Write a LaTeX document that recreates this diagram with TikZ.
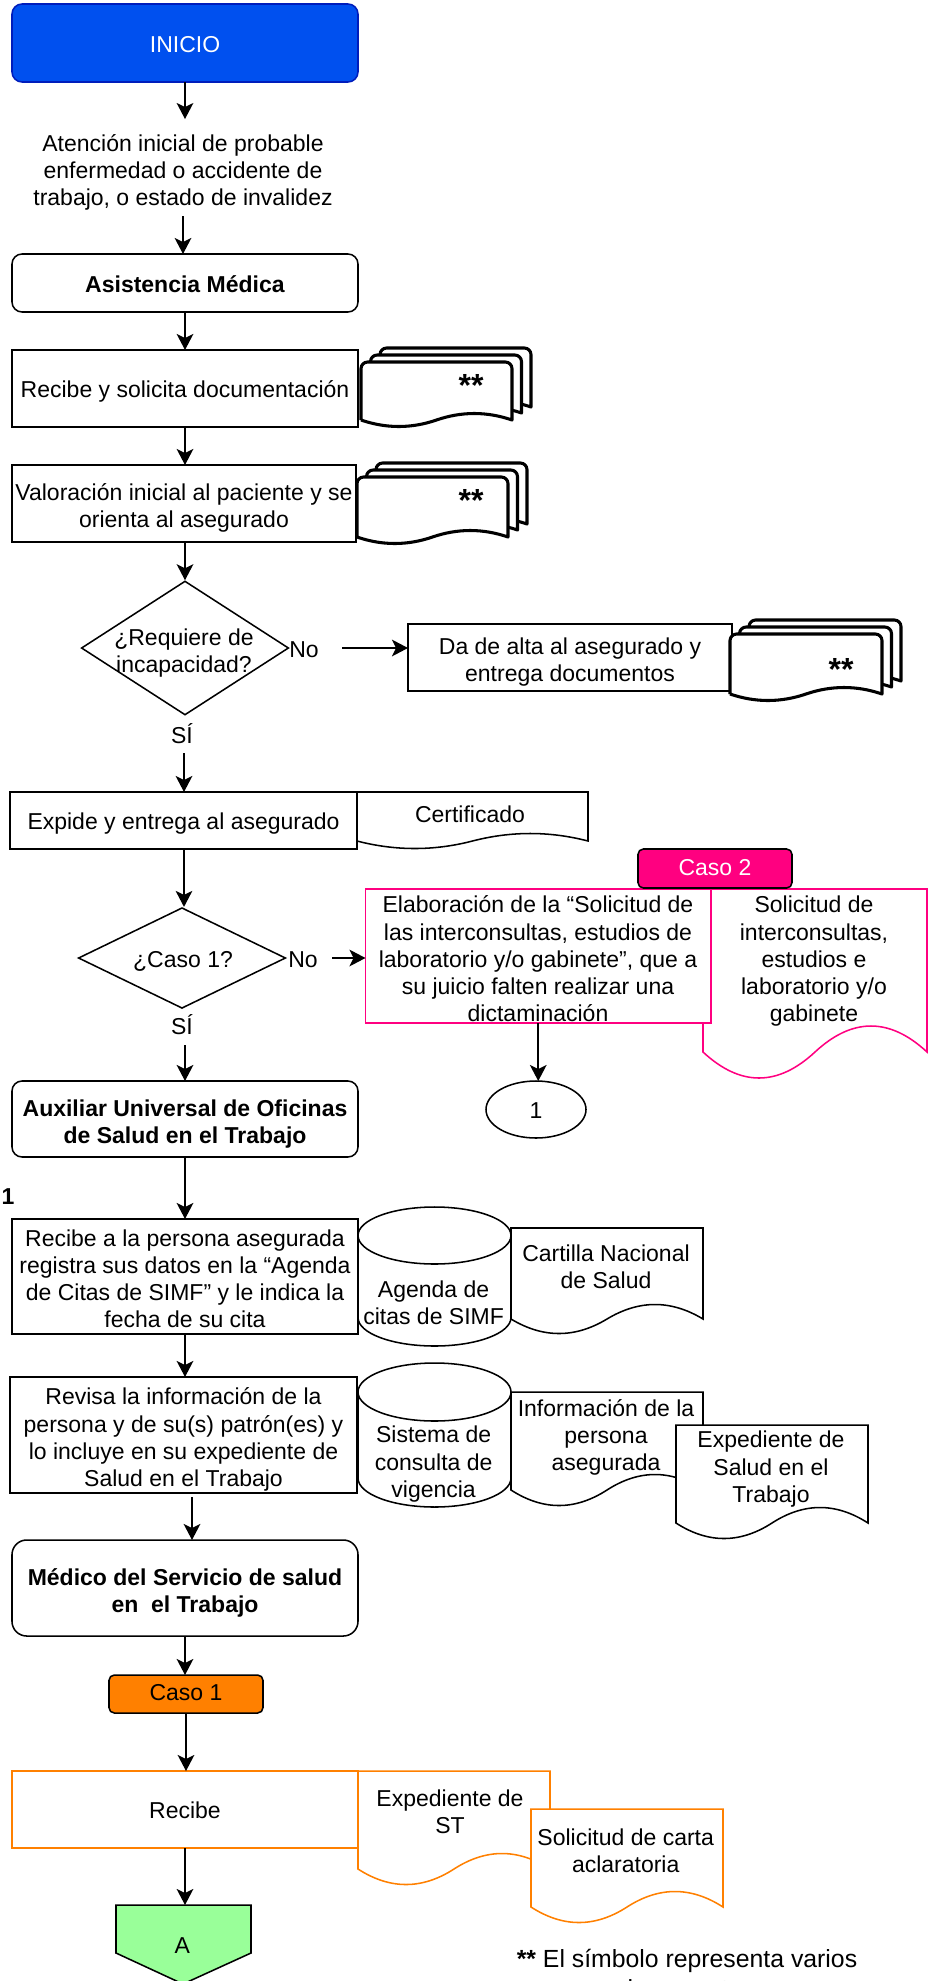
\documentclass[tikz,border=0pt]{standalone}
\usepackage{fontspec}
\setmainfont{Liberation Sans}
\usetikzlibrary{arrows.meta,shapes.geometric}
\definecolor{pinkc}{HTML}{FF0080}
\definecolor{orangec}{HTML}{FF8000}
\definecolor{bluef}{HTML}{0050EF}
\definecolor{blues}{HTML}{001DBC}
\definecolor{greenf}{HTML}{99FF99}
\newcommand{\ml}{\rule{0pt}{19.9pt}}
\newcommand{\tightlab}{\rule[-7.5pt]{0pt}{7.5pt}}
\tikzset{
  x=.75pt,y=-.75pt,
  base/.style={font=\fontsize{17.25}{20.4}\selectfont,align=center,inner sep=0pt,outer sep=0pt,text=black,
    execute at begin node={\rule{0pt}{17.5pt}},execute at end node={\rule[-4pt]{0pt}{4pt}}},
  boxn/.style={base,draw=black,fill=white,line width=1.15pt},
  round/.style={rounded corners=7.5pt},
  pinkb/.style={draw=pinkc,line width=1.15pt},
  orangeb/.style={draw=orangec,line width=1.15pt},
  docp/.style={draw=black,fill=white,line width=1.15pt},
  stk/.style={draw=black,fill=white,line width=2.3pt,line join=round},
  txt/.style={base},
  stars/.style={base,font=\fontsize{24}{24}\bfseries\selectfont,anchor=base},
  arr/.style={draw=black,line width=1.25pt,-{Stealth[length=12pt,width=12.5pt,inset=3pt]}},
}
% \bx[opts]{name}{x1}{y1}{x2}{y2}{text}
\newcommand{\bx}[7][]{\node[boxn,#1,minimum width={(#5-#3)*.75pt},minimum height={(#6-#4)*.75pt}] (#2) at ({(#3+#5)/2},{(#4+#6)/2}) {#7};}
% wave path: x1 y1 x2 yedge amp
\newcommand{\wavedoc}[6][docp]{\path[#1] (#2,#3) -- (#4,#3) -- (#4,#5)
  .. controls ({#4-(#4-#2)/6},{#5-#6*4/3}) and ({(#2+#4)/2+(#4-#2)/6},{#5-#6*4/3}) .. ({(#2+#4)/2},#5)
  .. controls ({(#2+#4)/2-(#4-#2)/6},{#5+#6*4/3}) and ({#2+(#4-#2)/6},{#5+#6*4/3}) .. (#2,#5) -- cycle;}
% one sheet of a stack
\newcommand{\sheet}[5]{\path[stk] (#1,#4) [rounded corners=5pt] -- (#1,#2) -- (#3,#2) [sharp corners] -- (#3,#4)
  .. controls ({#3-(#3-#1)/6},{#4-#5*4/3}) and ({(#1+#3)/2+(#3-#1)/6},{#4-#5*4/3}) .. ({(#1+#3)/2},#4)
  .. controls ({(#1+#3)/2-(#3-#1)/6},{#4+#5*4/3}) and ({#1+(#3-#1)/6},{#4+#5*4/3}) .. (#1,#4);}
\newcommand{\stack}[5]{%
  \pgfmathsetmacro{\sa}{#1+19}\pgfmathsetmacro{\sb}{#2-14}\pgfmathsetmacro{\sc}{#3+19}\pgfmathsetmacro{\sd}{#4-13}%
  \sheet{\sa}{\sb}{\sc}{\sd}{#5}%
  \pgfmathsetmacro{\sa}{#1+9.5}\pgfmathsetmacro{\sb}{#2-7}\pgfmathsetmacro{\sc}{#3+9.5}\pgfmathsetmacro{\sd}{#4-7}%
  \sheet{\sa}{\sb}{\sc}{\sd}{#5}%
  \sheet{#1}{#2}{#3}{#4}{#5}}
% cylinder x1 ytop x2 ybottom ry
\newcommand{\cyl}[5]{\path[docp] (#1,{#2+#5}) -- (#1,{#4-#5}) arc[start angle=180,end angle=360,x radius={(#3-#1)/2*.75pt},y radius={#5*.75pt}] -- (#3,{#2+#5})
   arc[start angle=0,end angle=180,x radius={(#3-#1)/2*.75pt},y radius={#5*.75pt}] arc[start angle=180,end angle=360,x radius={(#3-#1)/2*.75pt},y radius={#5*.75pt}];}
\begin{document}
\begin{tikzpicture}
\useasboundingbox[fill=white] (0,0) rectangle (932,1981);
\clip (0,0) rectangle (932,1981);
% Top flow
\bx[round,draw=blues,fill=bluef,text=white]{inicio}{12}{4}{358}{82}{INICIO}
\node[txt,minimum height=73pt] (aten) at (183,167.7) {\ml Atención inicial de probable\\enfermedad o accidente de\\trabajo, o estado de invalidez};
\bx[round]{asis}{12}{254}{358}{312}{\textbf{Asistencia Médica}}
\bx{rec}{12}{350}{358}{427}{Recibe y solicita documentación}
\stack{361}{362}{512}{420}{6.5}
\node[stars] (s1) at (471,396) {**};
\bx{val}{12}{465}{356}{542}{\ml Valoración inicial al paciente y se\\orienta al asegurado}
\stack{357}{477}{508}{537}{6.5}
\node[stars] (s2) at (471,511) {**};
\node[diamond,draw=black,fill=white,line width=1.15pt,inner sep=0pt,aspect=1.54,minimum width=155.5pt,minimum height=100.5pt] (d1) at (185,648) {};
\node[txt] (d1t) at (184,648.5) {\ml ¿Requiere de\\incapacidad?};
\node[txt,minimum width=57pt] (no1) at (304,648) {No};
\bx{alta}{408}{624}{732}{691}{\ml Da de alta al asegurado y\\entrega documentos}
\stack{730}{634}{882}{694}{6.5}
\node[stars] (s3) at (841,680) {**};
\node[txt,minimum height=28.5pt] (si1) at (182,734) {SÍ};
\bx{exp}{10}{792}{357}{849}{Expide y entrega al asegurado}
\wavedoc{357}{792}{588}{841}{7.5}
\node[txt] (cert) at (470,813.5) {Certificado};
\node[diamond,draw=black,fill=white,line width=1.15pt,inner sep=0pt,aspect=2.05,minimum width=155.5pt,minimum height=75.5pt] (d2) at (182,958) {};
\node[txt] (d2t) at (183,958.5) {¿Caso 1?};
\node[txt,minimum width=43.5pt] (no2) at (303,958) {No};
\wavedoc[pinkb,fill=white]{703}{889}{927}{1052}{26}
\node[txt] (soli) at (814,956.7) {\ml Solicitud de\\interconsultas,\\estudios e\\laboratorio y/o\\gabinete};
\bx[pinkb]{elab}{365.5}{889}{711}{1023}{}
\node[txt] (elabt) at (538,956.7) {\ml Elaboración de la “Solicitud de\\las interconsultas, estudios de\\laboratorio y/o gabinete”, que a\\su juicio falten realizar una\\dictaminación};
\bx[round,rounded corners=4pt,fill=pinkc,text=white]{caso2}{638}{849}{792}{888}{Caso 2\tightlab}
\node[ellipse,draw=black,fill=white,line width=1.15pt,base,minimum width=75pt,minimum height=42.75pt] (circ) at (536,1109.5) {1};
\node[txt,minimum height=30pt] (si2) at (182,1025) {SÍ};
\bx[round]{aux}{12}{1081}{358}{1157}{\ml\textbf{Auxiliar Universal de Oficinas}\\\textbf{de Salud en el Trabajo}}
\node[txt,font=\fontsize{17.25}{20.4}\bfseries\selectfont] (uno) at (8,1195) {1};
\bx{rec2}{12}{1219}{358}{1334}{\ml Recibe a la persona asegurada\\registra sus datos en la “Agenda\\de Citas de SIMF” y le indica la\\fecha de su cita}
\cyl{358}{1207}{511}{1346}{28.5}
\node[txt] (agen) at (433.6,1300.7) {\ml Agenda de\\citas de SIMF};
\wavedoc{511}{1228}{703}{1319}{14.5}
\node[txt] (cart) at (606,1264.5) {\ml Cartilla Nacional\\de Salud};
\bx{rev}{10}{1377}{357}{1493}{\ml Revisa la información de la\\persona y de su(s) patrón(es) y\\lo incluye en su expediente de\\Salud en el Trabajo}
\cyl{358}{1363}{511}{1507}{29}
\node[txt] (sist) at (433.6,1459.5) {\ml Sistema de\\consulta de\\vigencia};
\wavedoc{511}{1392}{703}{1490}{15.5}
\node[txt] (info) at (606,1432.7) {\ml Información de la\\persona\\asegurada};
\wavedoc{676}{1425}{868}{1523}{15.5}
\node[txt] (exps) at (771,1464.5) {\ml Expediente de\\Salud en el\\Trabajo};
\bx[round,rounded corners=11pt]{med}{12}{1540}{358}{1636}{\ml\textbf{Médico del Servicio de salud}\\\textbf{en\ \ el Trabajo}}
\bx[round,rounded corners=4pt,fill=orangec]{caso1}{109}{1675}{263}{1713}{Caso 1\tightlab}
\wavedoc[orangeb,fill=white]{358}{1771}{550}{1869}{15.5}
\node[txt] (expst) at (450,1809) {\ml Expediente de\\ST};
\bx[orangeb]{rec3}{12}{1771}{358}{1848}{Recibe}
\wavedoc[orangeb,fill=white]{531}{1809}{723}{1907}{15.5}
\node[txt] (carta) at (625.7,1848.5) {\ml Solicitud de carta\\aclaratoria};
\path[draw=black,fill=greenf,line width=1.15pt] (116,1905) -- (251,1905) -- (251,1953) -- (183,1984) -- (116,1953) -- cycle;
\coordinate (atop) at (185,1905);
\node[txt] (a) at (182.3,1944) {A};
\node[txt,font=\fontsize{18.6}{21.8}\selectfont,anchor=base] (note) at (687,1997) {\textbf{**} El símbolo representa varios\\documentos};
% connectors
\draw[arr] (inicio.south) -- (inicio.south |- aten.north);
\draw[arr] (aten.south) -- (aten.south |- asis.north);
\draw[arr] (asis.south) -- (asis.south |- rec.north);
\draw[arr] (rec.south) -- (rec.south |- val.north);
\draw[arr] (d1.north |- val.south) -- (d1.north);
\draw[arr] (no1.east) -- (no1.east -| alta.west);
\draw[arr] ([xshift=.375pt]si1.south -| exp.north) -- ([xshift=.375pt]exp.north);
\draw[arr] ([xshift=.375pt]exp.south) -- ([xshift=.375pt]exp.south |- d2.north);
\draw[arr] (no2.east) -- (no2.east -| elab.west);
\draw[arr] (elab.south) -- (elab.south |- circ.north);
\draw[arr] (si2.south -| aux.north) -- (aux.north);
\draw[arr] (aux.south) -- (aux.south |- rec2.north);
\draw[arr] (rec2.south) -- (rec2.south |- rev.north);
\draw[arr] ([shift={(8.5,4)}]rev.south) -- ([shift={(8.5,0)}]rev.south |- med.north);
\draw[arr] (med.south) -- (med.south |- caso1.north);
\draw[arr] (caso1.south) -- (caso1.south |- rec3.north);
\draw[arr] (rec3.south) -- (rec3.south |- atop);
\end{tikzpicture}
\end{document}
